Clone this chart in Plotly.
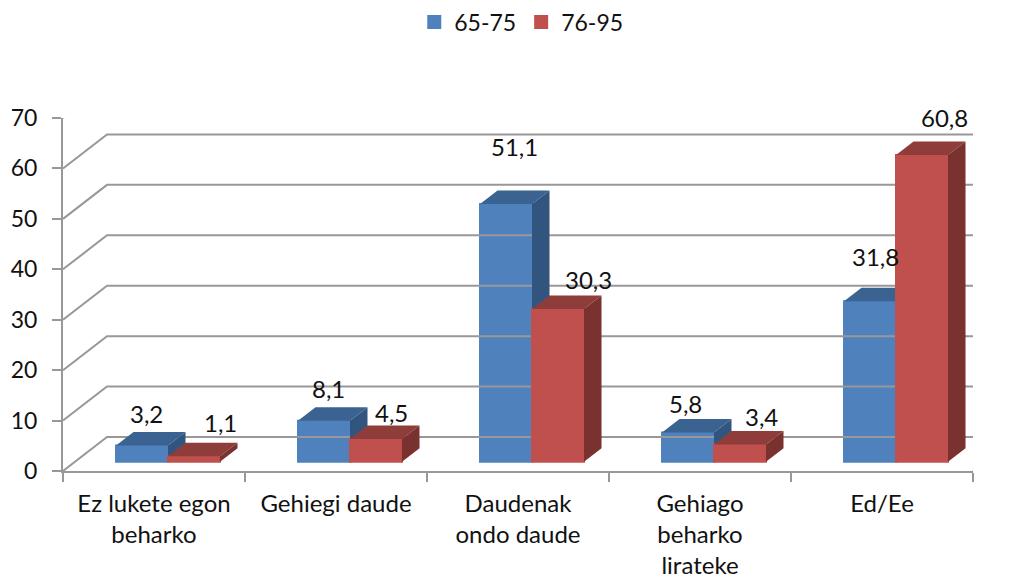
import plotly.graph_objects as go

categories = ["Ez lukete egon<br>beharko", "Gehiegi daude", "Daudenak<br>ondo daude", "Gehiago<br>beharko<br>lirateke", "Ed/Ee"]
series_a_name = "65-75"
series_b_name = "76-95"
series_a = [3.2, 8.1, 51.1, 5.8, 31.8]
series_b = [1.1, 4.5, 30.3, 3.4, 60.8]
y_ticks = [0, 10, 20, 30, 40, 50, 60, 70]
label_shift_a = [(4, -32), (4, -32), (8, -58), (-3, -29), (5, -45)]
label_shift_b = [(26, -34), (15, -27), (30, -29), (21, -28), (22, -38)]

FONT = "Lato"
GRID = "#989898"
WALL_DX, WALL_DY = 0.2418, 6.74     # depth of the walls, in axis units
BAR_DX, BAR_DY = 0.0962, 2.68       # depth of a bar, in axis units
BAR_W = 0.2857
BAR_BASE = 1.84
BAR_SHIFT = 0.077
N = len(categories)
centers = [i + 0.5 + BAR_SHIFT for i in range(N)]


def comma(v):
    return f"{v:.1f}".replace(".", ",")


fig = go.Figure()

# back wall + floor + left wall lines
gx, gy = [], []
for t in y_ticks:
    gx += [0, WALL_DX, N + WALL_DX, None]
    gy += [t, t + WALL_DY, t + WALL_DY, None]
gx += [N, N + WALL_DX, None]
gy += [0, WALL_DY, None]
fig.add_trace(go.Scatter(x=gx, y=gy, mode="lines", line=dict(color=GRID, width=2),
                         showlegend=False, hoverinfo="skip", cliponaxis=False))


def add_series(name, values, xs, front, top, side, xa, ya):
    fig.add_trace(go.Bar(x=xs, y=values, base=BAR_BASE, width=BAR_W, name=name,
                         marker=dict(color=front, line=dict(width=2, color=front)), xaxis=xa, yaxis=ya))
    for x0, v in zip(xs, values):
        l, r = x0 - BAR_W / 2, x0 + BAR_W / 2
        b, t = BAR_BASE, BAR_BASE + v
        for px, py, col in (
            ([l, r, r + BAR_DX, l + BAR_DX, l], [t, t, t + BAR_DY, t + BAR_DY, t], top),
            ([r, r, r + BAR_DX, r + BAR_DX, r], [b, t, t + BAR_DY, b + BAR_DY, b], side),
        ):
            fig.add_trace(go.Scatter(x=px, y=py, mode="lines", fill="toself", fillcolor=col,
                                     line=dict(width=0, color=col), showlegend=False,
                                     hoverinfo="skip", cliponaxis=False, xaxis=xa, yaxis=ya))


xs_a = [c - BAR_W / 2 for c in centers]
xs_b = [c + BAR_W / 2 for c in centers]
add_series(series_a_name, series_a, xs_a, "#4F81BD", "#3B6392", "#32557F", "x", "y")
add_series(series_b_name, series_b, xs_b, "#C0504D", "#8F3D3B", "#7A3230", "x2", "y2")

annotations = []
for xs, vals, shifts in ((xs_a, series_a, label_shift_a), (xs_b, series_b, label_shift_b)):
    for x0, v, (sx, sy) in zip(xs, vals, shifts):
        annotations.append(dict(x=x0, y=BAR_BASE + v, xref="x", yref="y", text=comma(v),
                                showarrow=False, xanchor="center", yanchor="middle",
                                xshift=sx, yshift=-sy, font=dict(family=FONT, size=24, color="#111111")))

fig.update_layout(
    width=1013, height=582, margin=dict(l=63, r=40, t=118, b=111, autoexpand=False),
    paper_bgcolor="white", plot_bgcolor="white", barmode="overlay",
    font=dict(family=FONT, size=23, color="#111111"),
    legend=dict(orientation="h", x=0.386, y=1.333, xanchor="left", yanchor="top",
                font=dict(family=FONT, size=23, color="#111111"), itemclick=False, itemdoubleclick=False),
    xaxis=dict(range=[0, N], tickmode="array", tickvals=[i + 0.5 for i in range(N)], ticktext=categories,
               ticks="", showgrid=False, zeroline=False, showline=True, linecolor=GRID, linewidth=2,
               ticklabelstandoff=10,
               minor=dict(tickmode="array", tickvals=list(range(N + 1)), ticks="outside", ticklen=9,
                          tickwidth=2, tickcolor=GRID, showgrid=False),
               tickfont=dict(family=FONT, size=24, color="#111111")),
    yaxis=dict(range=[0, 70], tickmode="array", tickvals=y_ticks, ticks="outside", ticklen=9, tickwidth=2,
               tickcolor=GRID, showgrid=False, zeroline=False, showline=True, linecolor=GRID, linewidth=2,
               ticklabelstandoff=10, tickfont=dict(family=FONT, size=23, color="#111111")),
    xaxis2=dict(range=[0, N], overlaying="x", visible=False),
    yaxis2=dict(range=[0, 70], overlaying="y", visible=False),
    annotations=annotations,
)

fig.write_html("out.html", post_script="document.body.style.margin='0';",
               config=dict(displayModeBar=False))
